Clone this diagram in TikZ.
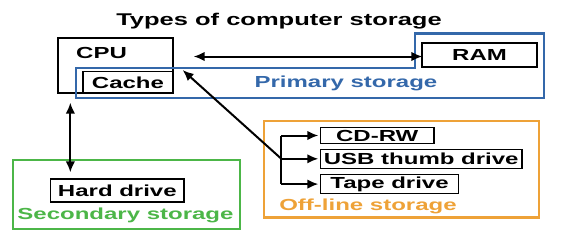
\documentclass[tikz,border=0pt]{standalone}
\usepackage{fontspec}
\usepackage{xcolor}
\usetikzlibrary{positioning,arrows.meta}
\newfontfamily\diagfont{Liberation Sans Bold}[FakeStretch=1.5]
\definecolor{primblue}{RGB}{52,104,170}
\definecolor{secgreen}{RGB}{76,182,72}
\definecolor{offorange}{RGB}{238,162,56}

\begin{document}
\begin{tikzpicture}[
  x=1pt,y=-1pt,
  box/.style={draw,line width=1.3pt,inner sep=0pt,align=center,font=\diagfont\fontsize{16}{18}\selectfont},
  group/.style={draw,line width=2.2pt,inner sep=0pt},
  caption/.style={anchor=base,inner sep=0pt,font=\diagfont\fontsize{16}{18}\selectfont},
  arrow/.style={-{Latex[length=11pt,width=9.5pt]},line width=2pt},
  dblarrow/.style={{Latex[length=11pt,width=9.5pt]}-{Latex[length=11pt,width=9.5pt]},line width=2pt}
]
  \useasboundingbox (0,0) rectangle (566,247);

  \node[caption,font=\diagfont\fontsize{17}{19}\selectfont] (title) at (279,25.7) {Types of computer storage};

  % primary storage
  \node[box,minimum width=115,minimum height=55] (cpu) at (115.5,65.5) {};
  \node[caption,anchor=base west] (cputext) at (76,58) {CPU};
  \node[box,minimum width=90,minimum height=21.3] (cache) at (128,82.35) {Cache};
  \node[box,minimum width=115,minimum height=24] (ram) at (479.5,55) {RAM};
  \draw[primblue,line width=2.2pt] (75.7,68.3) -- (415,68.3) -- (415,33.5) -- (544,33.5)
    -- (544,98.3) -- (75.7,98.3) -- cycle;
  \node[caption,text=primblue] (primlabel) at (346,87) {Primary storage};

  % secondary storage
  \node[group,draw=secgreen,minimum width=227.3,minimum height=69] (secbox) at (126.35,194.5) {};
  \node[box,minimum width=133.3,minimum height=23] (hdd) at (117.35,190.5) {Hard drive};
  \node[caption,text=secgreen] (seclabel) at (125.5,219) {Secondary storage};

  % off-line storage
  \node[group,draw=offorange,minimum width=275,minimum height=96.5] (offbox) at (401.5,169.25) {};
  \node[box,minimum width=113.5,minimum height=16] (cd) at (377.25,135.5) {CD-RW};
  \node[box,minimum width=201.5,minimum height=19,below=4.5pt of cd.south west,anchor=north west] (usb) {USB thumb drive};
  \node[box,minimum width=138,minimum height=19,below=5pt of usb.south west,anchor=north west] (tape) {Tape drive};
  \node[caption,text=offorange] (offlabel) at (368,210) {Off-line storage};

  \coordinate (split) at ([xshift=-38.5pt]usb.west);

  \draw[dblarrow,shorten <=10pt,shorten >=9pt] ([xshift=10pt,yshift=9pt]cpu.east) -- ([xshift=10pt,yshift=9pt]cpu.east -| ram.west);
  \draw[dblarrow,shorten <=9pt,shorten >=6pt] ([xshift=13pt]cpu.south west) -- ([xshift=13pt]cpu.south west |- hdd.north);
  \draw[arrow] (split) -- ([xshift=9pt,yshift=1pt]cache.north east);
  \draw[line width=2pt] (split |- cd.west) -- (split |- tape.west);
  \draw[arrow,shorten >=1.5pt] (split |- cd.west) -- (cd.west);
  \draw[arrow,shorten >=1.5pt] (split) -- (usb.west);
  \draw[arrow,shorten >=1.5pt] (split |- tape.west) -- (tape.west);
\end{tikzpicture}
\end{document}
